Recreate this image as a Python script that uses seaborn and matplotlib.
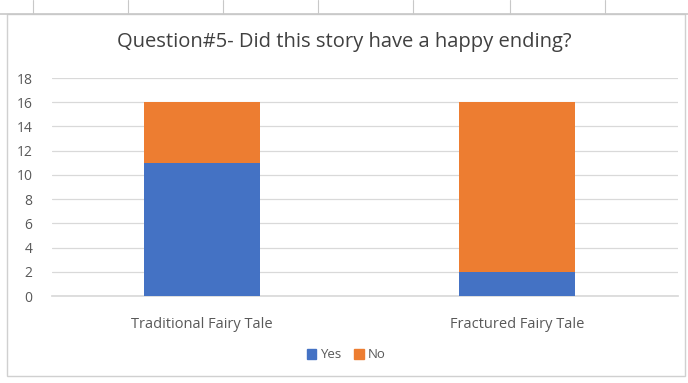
import matplotlib
matplotlib.use("Agg")
import matplotlib.pyplot as plt
import seaborn as sns
import pandas as pd
import numpy as np
from matplotlib.patches import Rectangle, Patch
from matplotlib.lines import Line2D

categories = ["Traditional Fairy Tale", "Fractured Fairy Tale"]
yes_values = [11, 2]
no_values = [5, 14]
yticks = list(range(0, 19, 2))
title = "Question#5- Did this story have a happy ending?"

sns.set_theme(style="white")
plt.rcParams['font.family'] = ['Open Sans', 'DejaVu Sans']

df = pd.DataFrame({"category": categories, "Yes": yes_values, "No": no_values})
df["Total"] = df["Yes"] + df["No"]

fig = plt.figure(figsize=(6.88, 3.83), dpi=100)
ax = fig.add_axes([52/688, 1 - 296/383, 626/688, (296-78)/383])

blue = "#4472C4"
orange = "#ED7D31"
sns.barplot(data=df, x="category", y="Total", color=orange, width=0.37, ax=ax,
            saturation=1, zorder=3, linewidth=0)
sns.barplot(data=df, x="category", y="Yes", color=blue, width=0.37, ax=ax,
            saturation=1, zorder=4, linewidth=0)

ax.set_xlim(-0.476, 1.511)
ax.set_ylim(0, 18)
ax.set_yticks(yticks)
ax.set_yticklabels([str(t) for t in yticks])
ax.yaxis.grid(True, color="#d9d9d9", linewidth=0.9, zorder=0)
ax.set_axisbelow(True)
for s in ["top", "right", "left"]:
    ax.spines[s].set_visible(False)
ax.spines["bottom"].set_color("#d9d9d9")
ax.set_xlabel("")
ax.set_ylabel("")
ax.tick_params(axis="both", length=0, labelsize=10, colors="#595959")
ax.tick_params(axis="y", pad=14)
ax.tick_params(axis="x", pad=15, labelsize=10.5)

fig.text(0.5, 1 - 42/383, title, ha="center", va="center", fontsize=14.5, color="#404040")

handles = [Patch(color=blue, label="Yes"), Patch(color=orange, label="No")]
fig.legend(handles=handles, loc="center", bbox_to_anchor=(0.503, 1 - 355/383), ncol=2,
           frameon=False, fontsize=9.5, handlelength=0.7, handleheight=0.7,
           handletextpad=0.3, columnspacing=1.0, labelcolor="#595959")

# chart frame and spreadsheet column lines
fig.patches.append(Rectangle((7/688, 1 - 376/383), 678/688, (376-14)/383,
                             transform=fig.transFigure, fill=False,
                             edgecolor="#d0d0d0", linewidth=1.0))
fig.lines.append(Line2D([0, 1], [1 - 14/383, 1 - 14/383], transform=fig.transFigure,
                        color="#c8c8c8", linewidth=1.2))
for x in [33, 128, 223, 318, 413, 510, 605]:
    fig.lines.append(Line2D([x/688, x/688], [1 - 14/383, 1.0], transform=fig.transFigure,
                            color="#c8c8c8", linewidth=0.8))

fig.savefig("out.png", dpi=100)
